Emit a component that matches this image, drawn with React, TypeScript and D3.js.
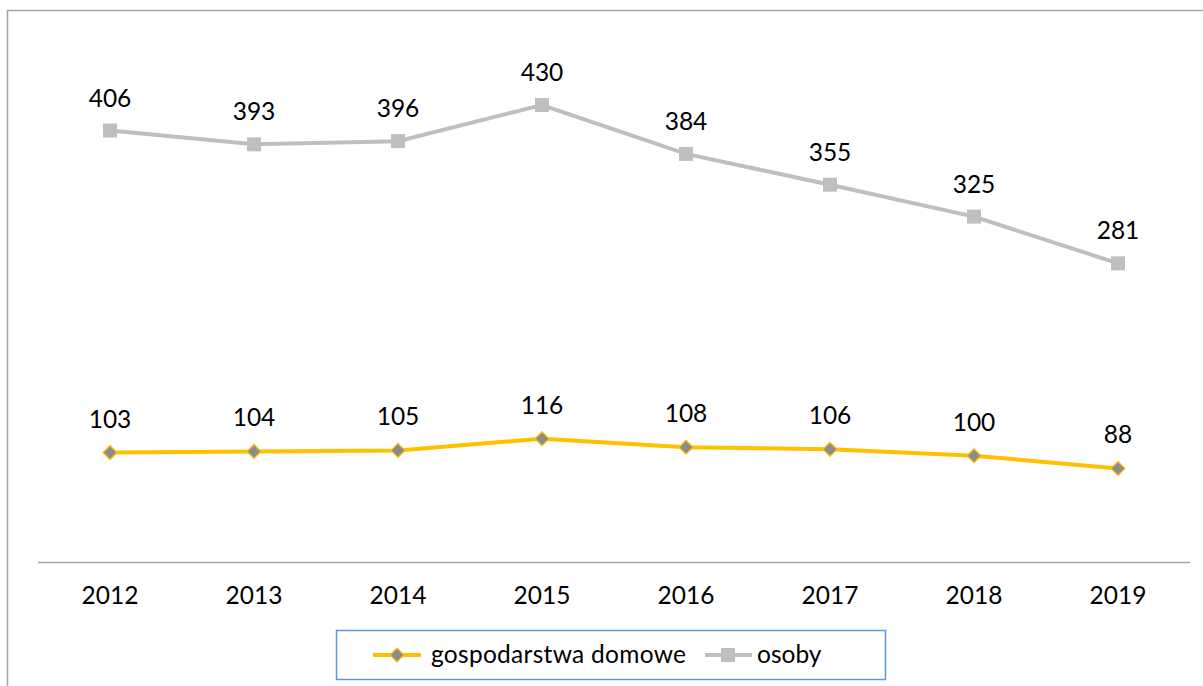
import React from "react";
import * as d3 from "d3";

const years = ["2012", "2013", "2014", "2015", "2016", "2017", "2018", "2019"];
const households = [103, 104, 105, 116, 108, 106, 100, 88];
const persons = [406, 393, 396, 430, 384, 355, 325, 281];
const seriesNames = ["gospodarstwa domowe", "osoby"];

const W = 1203;
const H = 686;
const FONT = "Lato, 'Open Sans', sans-serif";
const FS = 24.5;

export default function App() {
  const x = d3.scaleBand<string>().domain(years).range([38, 1190]);
  const y = d3.scaleLinear().domain([0, 500]).range([562, 30.6]);
  const cx = (yr: string) => (x(yr) as number) + x.bandwidth() / 2;
  const line = d3
    .line<number>()
    .x((_, i) => cx(years[i]))
    .y((d) => y(d));
  const gold = "#FFC000";
  const gray = "#BFBFBF";
  const diamond = (px: number, py: number, r: number) =>
    `M${px},${py - r}L${px + r},${py}L${px},${py + r}L${px - r},${py}Z`;

  return (
    <svg
      width={W}
      height={H}
      style={{ position: "absolute", left: 0, top: 0, background: "#fff" }}
      fontFamily={FONT}
    >
      <rect x={7.5} y={10.5} width={1300} height={800} fill="#fff" stroke="#A6A6A6" strokeWidth={1.5} />
      <line x1={38} x2={1190} y1={562.5} y2={562.5} stroke="#A6A6A6" strokeWidth={1.5} />
      {years.map((yr) => (
        <text key={yr} x={cx(yr)} y={604} textAnchor="middle" fontSize={FS} fill="#000">
          {yr}
        </text>
      ))}
      <path d={line(persons) || ""} fill="none" stroke={gray} strokeWidth={4} />
      <path d={line(households) || ""} fill="none" stroke={gold} strokeWidth={4} />
      {persons.map((v, i) => (
        <g key={"p" + i}>
          <rect x={cx(years[i]) - 7} y={y(v) - 7} width={14} height={14} fill={gray} />
          <text x={cx(years[i])} y={y(v) - 24} textAnchor="middle" fontSize={FS} fill="#000">
            {v}
          </text>
        </g>
      ))}
      {households.map((v, i) => (
        <g key={"h" + i}>
          <path d={diamond(cx(years[i]), y(v), 7)} fill="#8C8C8C" stroke={gold} strokeWidth={1.2} />
          <text x={cx(years[i])} y={y(v) - 25} textAnchor="middle" fontSize={FS} fill="#000">
            {v}
          </text>
        </g>
      ))}
      <rect x={336.5} y={630.5} width={549} height={49} fill="#fff" stroke="#5B9BD5" strokeWidth={1.5} />
      <line x1={373} x2={421} y1={655} y2={655} stroke={gold} strokeWidth={4} />
      <path d={diamond(397, 655, 7)} fill="#8C8C8C" stroke={gold} strokeWidth={1.2} />
      <text x={431} y={663} fontSize={FS} fill="#000" textLength={255}>{seriesNames[0]}</text>
      <line x1={705} x2={752} y1={655} y2={655} stroke={gray} strokeWidth={4} />
      <rect x={721} y={648} width={14} height={14} fill={gray} />
      <text x={757} y={663} fontSize={FS} fill="#000">{seriesNames[1]}</text>
    </svg>
  );
}
